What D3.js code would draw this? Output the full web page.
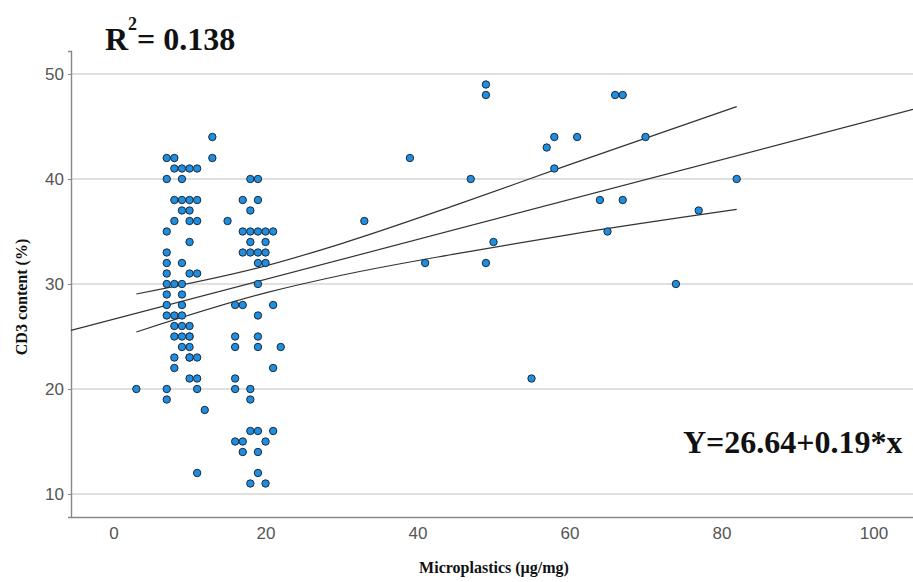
<!DOCTYPE html>
<html>
<head>
<meta charset="utf-8">
<script src="https://cdn.jsdelivr.net/npm/d3@7"></script>
<style>
  body { margin: 0; background: #fff; }
  .tick text { font-family: "Liberation Sans", Arial, sans-serif; font-size: 17px; fill: #555; }
  .ttl { font-family: "Liberation Serif", "Times New Roman", serif; font-weight: bold; fill: #111; }
</style>
</head>
<body>
<div id="chart"></div>
<script>
// data
var microplastics = [3,
  7, 7, 7, 7, 7, 7, 7, 7, 7, 7, 7, 7,
  8, 8, 8, 8, 8, 8, 8, 8, 8, 8,
  9, 9, 9, 9, 9, 9, 9, 9, 9, 9, 9, 9,
  10, 10, 10, 10, 10, 10, 10, 10, 10, 10, 10, 10, 10,
  11, 11, 11, 11, 11, 11, 11, 11,
  12, 13, 13, 15,
  16, 16, 16, 16, 16, 16,
  17, 17, 17, 17, 17, 17,
  18, 18, 18, 18, 18, 18, 18, 18, 18,
  19, 19, 19, 19, 19, 19, 19, 19, 19, 19, 19, 19,
  20, 20, 20, 20, 20, 20,
  21, 21, 21, 21, 22,
  33, 39, 41, 47, 49, 49, 49, 50, 55, 57, 58, 58, 61, 64, 65, 66, 67, 67, 70, 74, 77, 82];
var cd3 = [20,
  42, 40, 35, 33, 32, 31, 30, 29, 28, 27, 20, 19,
  42, 41, 38, 36, 30, 27, 26, 25, 23, 22,
  41, 40, 38, 37, 32, 30, 29, 28, 27, 26, 25, 24,
  41, 38, 37, 36, 34, 31, 26, 25, 25, 24, 23, 23, 21,
  41, 38, 36, 31, 23, 21, 20, 12,
  18, 44, 42, 36,
  28, 25, 24, 21, 20, 15,
  38, 35, 33, 28, 15, 14,
  40, 37, 35, 34, 33, 20, 19, 16, 11,
  40, 38, 35, 33, 32, 30, 27, 25, 24, 16, 14, 12,
  35, 34, 33, 32, 15, 11,
  35, 28, 22, 16, 24,
  36, 42, 32, 40, 49, 48, 32, 34, 21, 43, 44, 41, 44, 38, 35, 48, 48, 38, 44, 30, 37, 40];

// fitted line and its confidence band (band read at a few x positions)
var fitIntercept = 26.64;
var fitSlope = 0.19;
var bandX = [3, 20, 30, 45, 60, 82];
var bandUpper = [29.05, 31.72, 33.85, 37.51, 41.37, 46.9];
var bandLower = [25.43, 29.15, 30.83, 32.87, 34.71, 37.1];

var xTicks = [0, 20, 40, 60, 80, 100];
var yTicks = [10, 20, 30, 40, 50];

var svgWidth = 913, svgHeight = 582;
var svg = d3.select("#chart").append("svg")
  .attr("width", svgWidth)
  .attr("height", svgHeight);

var x = d3.scaleLinear().domain([-5.6, 105.2]).range([71, 913]);
var y = d3.scaleLinear().domain([7.81, 52.19]).range([517, 51]);

// gridlines
svg.append("g")
  .selectAll("line")
  .data(yTicks)
  .enter()
  .append("line")
  .attr("x1", 71).attr("x2", 913)
  .attr("y1", d => y(d)).attr("y2", d => y(d))
  .attr("stroke", "#d6d6d6")
  .attr("stroke-width", 1.6);

// axes
var leftAxis = d3.axisLeft(y).tickValues(yTicks).tickSize(3).tickPadding(4);
var bottomAxis = d3.axisBottom(x).tickValues(xTicks).tickSize(0).tickPadding(10);

var yAxis = svg.append("g")
  .attr("transform", "translate(71,0)")
  .call(leftAxis);
var xAxis = svg.append("g")
  .attr("transform", "translate(0,517)")
  .call(bottomAxis);

[xAxis, yAxis].forEach(function(ax) {
  ax.select(".domain").attr("stroke", "#888").attr("stroke-width", 1.4);
  ax.selectAll(".tick line").attr("stroke", "#888");
});

// regression line across the whole plot
var xd = x.domain();
svg.append("line")
  .attr("x1", x(xd[0])).attr("y1", y(fitIntercept + fitSlope * xd[0]))
  .attr("x2", x(xd[1])).attr("y2", y(fitIntercept + fitSlope * xd[1]))
  .attr("stroke", "#333")
  .attr("stroke-width", 1.2);

// confidence band lines
var bandLine = d3.line()
  .x(d => x(d[0]))
  .y(d => y(d[1]))
  .curve(d3.curveMonotoneX);

[bandUpper, bandLower].forEach(function(b) {
  svg.append("path")
    .attr("d", bandLine(bandX.map((v, i) => [v, b[i]])))
    .attr("fill", "none")
    .attr("stroke", "#333")
    .attr("stroke-width", 1.2);
});

// points
svg.append("g")
  .selectAll("circle")
  .data(microplastics.map((v, i) => [v, cd3[i]]))
  .enter()
  .append("circle")
  .attr("cx", d => x(d[0]))
  .attr("cy", d => y(d[1]))
  .attr("r", 3.7)
  .attr("fill", "#1f8ee0")
  .attr("stroke", "#1c2a3a")
  .attr("stroke-width", 1);

// axis titles
svg.append("text")
  .attr("class", "ttl")
  .attr("x", 494).attr("y", 573)
  .attr("text-anchor", "middle")
  .style("font-size", "16px")
  .text("Microplastics (\u00b5g/mg)");

svg.append("text")
  .attr("class", "ttl")
  .attr("transform", "translate(27,297) rotate(-90)")
  .attr("text-anchor", "middle")
  .style("font-size", "16px")
  .text("CD3 content (%)");

// annotations
var r2 = svg.append("text")
  .attr("class", "ttl")
  .attr("x", 105).attr("y", 50)
  .style("font-size", "32px");
r2.append("tspan").text("R");
r2.append("tspan").attr("dy", -20).style("font-size", "18px").text("2");
r2.append("tspan").attr("dy", 20).text("= 0.138");

svg.append("text")
  .attr("class", "ttl")
  .attr("x", 683).attr("y", 453)
  .style("font-size", "32px")
  .text("Y=26.64+0.19*x");
</script>
</body>
</html>
